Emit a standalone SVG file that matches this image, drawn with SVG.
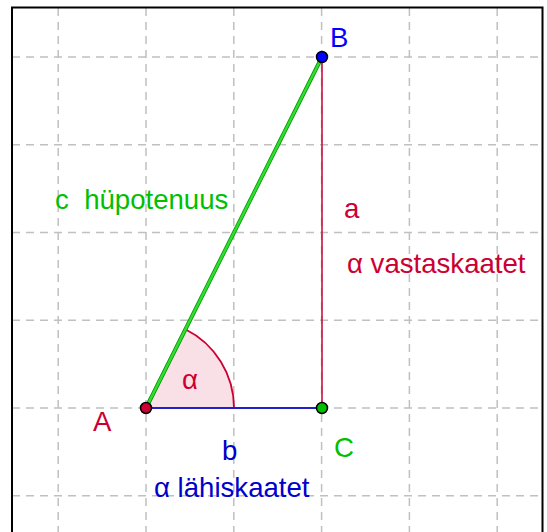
<svg xmlns="http://www.w3.org/2000/svg" width="547" height="532" viewBox="0 0 547 532">
<style>
.grid{stroke:#c0c0c0;stroke-width:1.5;stroke-dasharray:8 6;fill:none}
text{font-family:"Liberation Sans",Arial,sans-serif;font-size:27.6px;white-space:pre}
.red{fill:#cc0033}.blue{fill:#0000ff}.green{fill:#00c000}.dblue{fill:#0000cc}
.pt{stroke:#000;stroke-width:1.5}
</style>
<rect x="0" y="0" width="547" height="532" fill="#fff"/>
<g id="grid">
<path class="grid" d="M58.2 8V532M146 8V532M233.8 8V532M321.6 8V532M409.4 8V532M497.2 8V532"/>
<path class="grid" d="M12 57H542M12 144.75H542M12 232.5H542M12 320.25H542M12 408H542M12 495.75H542"/>
</g>
<path d="M12 540V7.5H542.5V540" fill="none" stroke="#000" stroke-width="2"/>
<g id="angle">
<path d="M146 408L185.4 329.3A88 88 0 0 1 234 408Z" fill="#cc0033" fill-opacity="0.12" stroke="none"/>
<path d="M185.4 329.3A88 88 0 0 1 234 408" fill="none" stroke="#cc0033" stroke-width="1.8"/>
<text x="182" y="389" class="red">α</text>
</g>
<g id="connectors">
<line x1="146" y1="408" x2="322" y2="57" stroke="#009900" stroke-width="4"/>
<line x1="146" y1="408" x2="322" y2="57" stroke="#33dd33" stroke-width="2.4"/>
<line x1="322" y1="57" x2="322" y2="408" stroke="#cc0033" stroke-width="1.5"/>
<line x1="146" y1="408" x2="322" y2="408" stroke="#2020cc" stroke-width="2"/>
</g>
<g id="labels">
<text x="55" y="209" class="green" xml:space="preserve">c  hüpotenuus</text>
<text x="344" y="218" class="red">a</text>
<text x="347" y="273" class="red">α vastaskaatet</text>
<text x="222" y="460" class="dblue">b</text>
<text x="154" y="497" class="dblue">α lähiskaatet</text>
</g>
<g id="A"><circle cx="146" cy="408" r="5.5" fill="#cc0033" class="pt"/><text x="93" y="431" class="red">A</text></g>
<g id="B"><circle cx="322" cy="57" r="5.5" fill="#0000ff" class="pt"/><text x="330" y="47" class="blue">B</text></g>
<g id="C"><circle cx="322" cy="408" r="5.5" fill="#00c000" class="pt"/><text x="334" y="457" class="green">C</text></g>
</svg>
